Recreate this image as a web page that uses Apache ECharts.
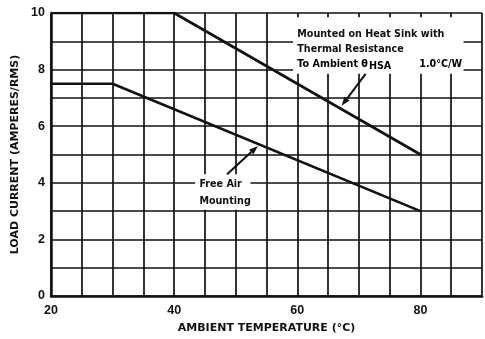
<!DOCTYPE html>
<html>
<head>
<meta charset="utf-8">
<script src="https://cdn.jsdelivr.net/npm/echarts@6/dist/echarts.min.js"></script>
<style>
  html, body { margin: 0; padding: 0; background: #fff; }
  #chart { width: 485px; height: 339px; }
</style>
</head>
<body>
<div id="chart"></div>
<script>
// Load current derating curves vs ambient temperature
const temperature = { min: 20, max: 90, step: 5 };
const current = { min: 0, max: 10, step: 1 };
const xTickLabels = [20, 40, 60, 80];
const yTickLabels = [0, 2, 4, 6, 8, 10];

const heatSinkTemp = [20, 40, 80];
const heatSinkCurrent = [10, 10, 5];

const freeAirTemp = [20, 30, 80];
const freeAirCurrent = [7.5, 7.5, 3];

const heatSinkNote = ['Mounted on Heat Sink with', 'Thermal Resistance'];
const freeAirNote = ['Free Air', 'Mounting'];

const FONT = '"DejaVu Sans", "Liberation Sans", sans-serif';
const TICK_FONT = '"Liberation Sans", Arial, sans-serif';
const INK = '#111';

const pair = (xs, ys) => xs.map((x, i) => [x, ys[i]]);

const chart = echarts.init(document.getElementById('chart'), null, { renderer: 'canvas' });

chart.setOption({
  animation: false,
  backgroundColor: '#fff',
  grid: { left: 51, right: 2, top: 13, bottom: 41, containLabel: false },
  xAxis: {
    type: 'value',
    min: temperature.min, max: temperature.max, interval: temperature.step,
    axisLine: { show: true, lineStyle: { color: INK, width: 2.5 } },
    axisTick: { show: false },
    splitLine: { show: true, lineStyle: { color: INK, width: 1.7 } },
    axisLabel: {
      color: INK, fontFamily: TICK_FONT, fontWeight: 'bold', fontSize: 12.5, margin: 8,
      formatter: v => xTickLabels.includes(v) ? String(v) : ''
    },
    name: 'AMBIENT TEMPERATURE (°C)',
    nameLocation: 'middle', nameGap: 27,
    nameTextStyle: { color: INK, fontFamily: FONT, fontWeight: 'bold', fontSize: 11 }
  },
  yAxis: {
    type: 'value',
    min: current.min, max: current.max, interval: current.step,
    axisLine: { show: true, lineStyle: { color: INK, width: 2.5 } },
    axisTick: { show: false },
    splitLine: { show: true, lineStyle: { color: INK, width: 1.7 } },
    axisLabel: {
      color: INK, fontFamily: TICK_FONT, fontWeight: 'bold', fontSize: 12.5, margin: 6,
      formatter: v => yTickLabels.includes(v) ? String(v) : ''
    },
    name: 'LOAD CURRENT (AMPERES/RMS)',
    nameLocation: 'middle', nameGap: 29, nameRotate: 90,
    nameTextStyle: { color: INK, fontFamily: FONT, fontWeight: 'bold', fontSize: 11 }
  },
  series: [
    {
      name: 'Heat Sink', type: 'line', data: pair(heatSinkTemp, heatSinkCurrent),
      symbol: 'none', lineStyle: { color: INK, width: 2.6 }, z: 5
    },
    {
      name: 'Free Air', type: 'line', data: pair(freeAirTemp, freeAirCurrent),
      symbol: 'none', lineStyle: { color: INK, width: 2.6 }, z: 5
    }
  ]
});

// Annotations: white label boxes over the grid with leader arrows
const px = (x, y) => chart.convertToPixel({ gridIndex: 0 }, [x, y]);

function arrow(from, to) {
  const [x1, y1] = px(from[0], from[1]);
  const [x2, y2] = px(to[0], to[1]);
  const ang = Math.atan2(y2 - y1, x2 - x1);
  const L = 9, W = 3.2;
  const bx = x2 - L * Math.cos(ang), by = y2 - L * Math.sin(ang);
  const nx = -Math.sin(ang) * W, ny = Math.cos(ang) * W;
  return [
    { type: 'line', shape: { x1, y1, x2: bx, y2: by }, style: { stroke: INK, lineWidth: 2 }, z: 20 },
    { type: 'polygon', shape: { points: [[x2, y2], [bx + nx, by + ny], [bx - nx, by - ny]] },
      style: { fill: INK }, z: 20 }
  ];
}

const noteFont = { fontFamily: FONT, fontWeight: 'bold', fontSize: 9.6 };
const noteStyle = { fill: INK, font: `bold 9.6px ${FONT}` };

const hsBoxTL = px(59.3, 9.85), hsBoxBR = px(87.0, 7.85);
const faBoxTL = px(43.4, 4.3), faBoxBR = px(52.4, 3.05);
const hsText = px(60, 9.25);
const faText = px(44.1, 3.95);

chart.setOption({
  graphic: [
    { type: 'rect', shape: { x: hsBoxTL[0], y: hsBoxTL[1], width: hsBoxBR[0] - hsBoxTL[0], height: hsBoxBR[1] - hsBoxTL[1] },
      style: { fill: '#fff' }, z: 10 },
    { type: 'rect', shape: { x: faBoxTL[0], y: faBoxTL[1], width: faBoxBR[0] - faBoxTL[0], height: faBoxBR[1] - faBoxTL[1] },
      style: { fill: '#fff' }, z: 10 },
    { type: 'text', x: hsText[0], y: hsText[1], z: 15,
      style: { text: heatSinkNote[0], ...noteStyle, verticalAlign: 'middle' } },
    { type: 'text', x: hsText[0], y: hsText[1] + 15, z: 15,
      style: { text: heatSinkNote[1], ...noteStyle, verticalAlign: 'middle' } },
    { type: 'text', x: hsText[0], y: hsText[1] + 30, z: 15,
      style: {
        text: '{a|To Ambient θ}{s|HSA}{b|1.0°C/W}',
        verticalAlign: 'middle',
        rich: {
          a: { color: INK, ...noteFont },
          s: { color: INK, ...noteFont, padding: [5, 0, 0, 1] },
          b: { color: INK, ...noteFont, padding: [0, 0, 0, 28] }
        }
      } },
    { type: 'text', x: faText[0], y: faText[1], z: 15,
      style: { text: freeAirNote[0], ...noteStyle, verticalAlign: 'middle' } },
    { type: 'text', x: faText[0], y: faText[1] + 17, z: 15,
      style: { text: freeAirNote[1], ...noteStyle, verticalAlign: 'middle' } },
    ...arrow([71.1, 7.85], [67.2, 6.72]),
    ...arrow([48.6, 4.3], [53.6, 5.3])
  ]
});
</script>
</body>
</html>
